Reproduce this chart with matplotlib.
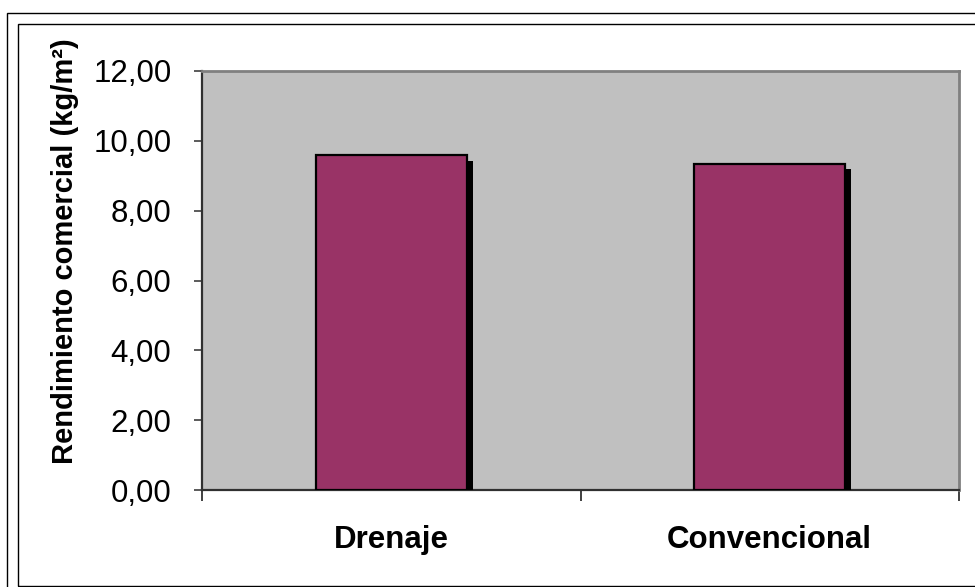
import matplotlib
matplotlib.use("Agg")
import matplotlib.pyplot as plt
import matplotlib.patheffects as pe
from matplotlib.patches import Rectangle
from matplotlib.ticker import FuncFormatter

categories = ["Drenaje", "Convencional"]
rendimiento = [9.58, 9.35]
y_ticks = [0, 2, 4, 6, 8, 10, 12]

W, H = 975, 587
fig = plt.figure(figsize=(W / 100, H / 100), dpi=100)
fig.patch.set_facecolor("white")

def px_rect(x0, y0, x1, y1):
    # rectangle given in pixel coordinates from the top-left corner
    return Rectangle((x0 / W, 1 - y1 / H), (x1 - x0) / W, (y1 - y0) / H,
                     transform=fig.transFigure, fill=False,
                     edgecolor="black", linewidth=1.0)

fig.patches.append(px_rect(6.5, 12.5, 990, 600))
fig.patches.append(px_rect(17.5, 23.5, 985, 585.5))

left, right, top, bottom = 202, 959, 71, 490
ax = fig.add_axes([left / W, 1 - bottom / H, (right - left) / W, (bottom - top) / H])
ax.set_facecolor("#C0C0C0")

x = [0.5 + i for i in range(len(categories))]
bars = ax.bar(x, rendimiento, width=0.4, color="#993366",
              edgecolor="black", linewidth=1.6, zorder=3)
for b in bars:
    b.set_path_effects([pe.SimplePatchShadow(offset=(4.0, -3.8),
                                              shadow_rgbFace="black", alpha=1.0),
                        pe.Normal()])

ax.set_xlim(0, 2)
ax.set_ylim(0, 12)
ax.set_yticks(y_ticks)
ax.yaxis.set_major_formatter(FuncFormatter(lambda v, p: f"{v:.2f}".replace(".", ",")))

ax.set_xticks(x)
ax.set_xticklabels(categories, fontsize=22.5, fontweight="bold",
                   family="Liberation Sans")
ax.set_xticks([0, 1, 2], minor=True)
ax.tick_params(axis="x", which="major", length=0, pad=25)
ax.tick_params(axis="x", which="minor", length=8, width=1.2, color="#202020",
               direction="out")
ax.tick_params(axis="y", length=6, width=1.2, color="#404040", pad=16,
               labelsize=22.5)
for lab in ax.get_yticklabels():
    lab.set_family("Liberation Sans")

ax.set_ylabel("Rendimiento comercial (kg/m²)", fontsize=21, fontweight="bold",
              family="Liberation Sans")
ax.yaxis.set_label_coords(-0.163, 0.57)

for side in ("top", "right"):
    ax.spines[side].set_color("#808080")
    ax.spines[side].set_linewidth(2.0)
for side in ("left", "bottom"):
    ax.spines[side].set_color("#303030")
    ax.spines[side].set_linewidth(1.6)

fig.savefig("out.png", dpi=100)
